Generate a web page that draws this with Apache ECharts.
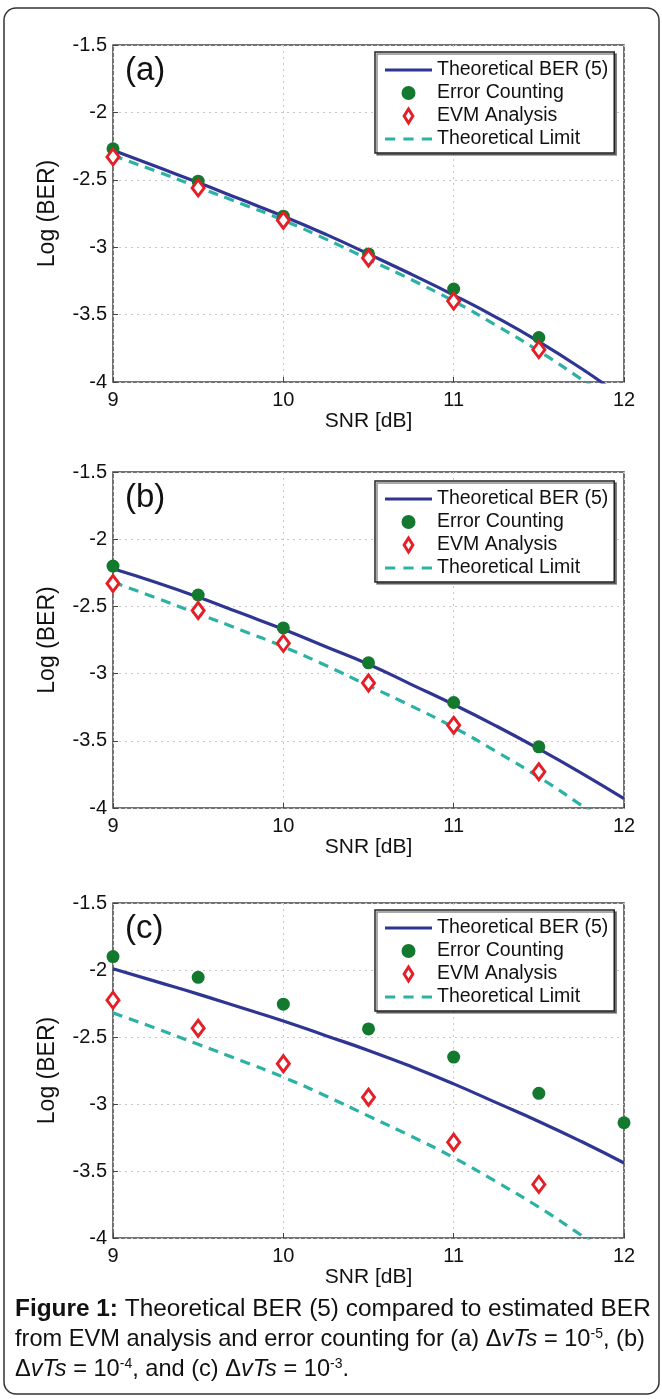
<!DOCTYPE html>
<html>
<head>
<meta charset="utf-8">
<script src="https://cdn.jsdelivr.net/npm/echarts@6/dist/echarts.min.js"></script>
<style>
html,body{margin:0;padding:0;background:#fff;}
#chart{width:662px;height:1399px;}
</style>
</head>
<body>
<div id="chart"></div>
<script>
// ---------- data ----------
var xTicks = [9, 10, 11, 12];
var yTicks = [-4, -3.5, -3, -2.5, -2, -1.5];
var panelLabels = ['(a)', '(b)', '(c)'];
var seriesNames = ['Theoretical BER (5)', 'Error Counting', 'EVM Analysis', 'Theoretical Limit'];

// SNR grid of the theoretical curves
var snrCurve = [9, 9.25, 9.5, 9.75, 10, 10.25, 10.5, 10.75, 11, 11.25, 11.5, 11.75, 12];
// SNR of measured points
var snrPoints = [9, 9.5, 10, 10.5, 11, 11.5, 12];

// Theoretical limit (same in all panels)
var theoLimit = [-2.32, -2.435, -2.555, -2.675, -2.80, -2.94, -3.09, -3.24, -3.40, -3.58, -3.77, -3.98, -4.2];

// Panel (a)
var theoA = [-2.28, -2.40, -2.52, -2.645, -2.77, -2.905, -3.05, -3.20, -3.355, -3.52, -3.70, -3.90, -4.12];
var errA  = [-2.27, -2.51, -2.77, -3.05, -3.31, -3.67, null];
var evmA  = [-2.33, -2.56, -2.80, -3.08, -3.40, -3.76, null];
// Panel (b)
var theoB = [-2.22, -2.32, -2.43, -2.55, -2.67, -2.80, -2.93, -3.08, -3.23, -3.39, -3.56, -3.74, -3.93];
var errB  = [-2.20, -2.415, -2.66, -2.92, -3.215, -3.545, null];
var evmB  = [-2.33, -2.53, -2.775, -3.07, -3.385, -3.73, null];
// Panel (c)
var theoC = [-1.99, -2.085, -2.18, -2.28, -2.38, -2.49, -2.60, -2.72, -2.85, -2.99, -3.13, -3.28, -3.44];
var errC  = [-1.90, -2.055, -2.255, -2.44, -2.65, -2.92, -3.14];
var evmC  = [-2.225, -2.435, -2.70, -2.95, -3.285, -3.60, null];

var theo = [theoA, theoB, theoC];
var err = [errA, errB, errC];
var evm = [evmA, evmB, evmC];

// ---------- styling ----------
var FONT = '"Liberation Sans", Arial, Helvetica, sans-serif';
var BLUE = '#2f3592', GREEN = '#13792f', RED = '#e41f28', TEAL = '#2cb2a5';
var gridTops = [45, 472, 903];
var gridHeights = [337, 336, 335];
var legendTops = [52, 481, 910];

function pairs(xs, ys) {
  var out = [];
  for (var i = 0; i < xs.length; i++) {
    if (ys[i] !== null && ys[i] !== undefined) out.push([xs[i], ys[i]]);
  }
  return out;
}

var ICON_SOLID = 'path://M0,0 H47 V3 H0 Z';
var ICON_DASH = 'path://M0,0 H10 V3 H0 Z M18,0 H28 V3 H18 Z M36,0 H46 V3 H36 Z';
var ICON_DIAMOND = 'path://M5,0 L10,8 L5,16 L0,8 Z';

var grids = [], xAxes = [], yAxes = [], series = [], legends = [], titles = [];
for (var p = 0; p < 3; p++) {
  grids.push({
    left: 113, top: gridTops[p], width: 511, height: gridHeights[p],
    show: true, borderColor: '#444', borderWidth: 1.5, backgroundColor: 'transparent'
  });
  xAxes.push({
    type: 'value', gridIndex: p, min: xTicks[0], max: xTicks[xTicks.length - 1], interval: 1,
    name: 'SNR [dB]', nameLocation: 'middle', nameGap: 29,
    nameTextStyle: { fontSize: 21, color: '#111', fontFamily: FONT },
    axisLine: { show: false },
    axisTick: { show: true, inside: true, length: 5, lineStyle: { color: '#444' } },
    axisLabel: { fontSize: 20, color: '#111', margin: 8, fontFamily: FONT },
    splitLine: { show: true, lineStyle: { color: '#c8c8c8', type: [2, 4], width: 1 } }
  });
  yAxes.push({
    type: 'value', gridIndex: p, min: yTicks[0], max: yTicks[yTicks.length - 1], interval: 0.5,
    name: 'Log (BER)', nameLocation: 'middle', nameGap: 54, nameRotate: 90,
    nameTextStyle: { fontSize: 23, color: '#111', fontFamily: FONT },
    axisLine: { show: false },
    axisTick: { show: true, inside: true, length: 5, lineStyle: { color: '#444' } },
    axisLabel: { fontSize: 20, color: '#111', margin: 6, fontFamily: FONT },
    splitLine: { show: true, lineStyle: { color: '#c8c8c8', type: [2, 4], width: 1 } }
  });
  series.push({
    name: seriesNames[0], type: 'line', xAxisIndex: p, yAxisIndex: p,
    data: pairs(snrCurve, theo[p]), smooth: true, symbol: 'none', clip: true, z: 3,
    lineStyle: { color: BLUE, width: 3.2 }, itemStyle: { color: BLUE }
  });
  series.push({
    name: seriesNames[3], type: 'line', xAxisIndex: p, yAxisIndex: p,
    data: pairs(snrCurve, theoLimit), smooth: true, symbol: 'none', clip: true, z: 2,
    lineStyle: { color: TEAL, width: 3.2, type: [10, 7] }, itemStyle: { color: TEAL }
  });
  series.push({
    name: seriesNames[1], type: 'scatter', xAxisIndex: p, yAxisIndex: p,
    data: pairs(snrPoints, err[p]), symbol: 'circle', symbolSize: 13, clip: false, z: 4,
    itemStyle: { color: GREEN, opacity: 1 }
  });
  series.push({
    name: seriesNames[2], type: 'scatter', xAxisIndex: p, yAxisIndex: p,
    data: pairs(snrPoints, evm[p]), symbol: 'diamond', symbolSize: [12, 16], clip: false, z: 5,
    itemStyle: { color: '#fff', borderColor: RED, borderWidth: 3, opacity: 1 }
  });
  legends.push({
    orient: 'vertical', left: 375, top: legendTops[p],
    padding: [8, 6, 4, 10], itemGap: 3, itemWidth: 47, itemHeight: 14,
    backgroundColor: '#fff', borderColor: '#222', borderWidth: 1.5,
    shadowColor: 'rgba(0,0,0,0.45)', shadowOffsetX: 2, shadowOffsetY: 2, shadowBlur: 0,
    selectedMode: false,
    textStyle: { fontSize: 19.5, color: '#111', fontFamily: FONT },
    data: [
      { name: seriesNames[0], icon: ICON_SOLID, itemStyle: { color: BLUE, borderWidth: 0 } },
      { name: seriesNames[1], icon: 'circle', itemStyle: { color: GREEN, opacity: 1 } },
      { name: seriesNames[2], icon: ICON_DIAMOND, itemStyle: { color: '#fff', borderColor: RED, borderWidth: 3 } },
      { name: seriesNames[3], icon: ICON_DASH, itemStyle: { color: TEAL, borderWidth: 0 } }
    ]
  });
  titles.push({
    text: panelLabels[p], left: 125, top: gridTops[p] + 9, padding: 0,
    textStyle: { fontSize: 33, fontWeight: 'normal', color: '#111', fontFamily: FONT }
  });
}

function capRich(fs) {
  return {
    b: { fontWeight: 'bold', fontSize: fs, fontFamily: FONT, color: '#111' },
    i: { fontStyle: 'italic', fontSize: fs, fontFamily: FONT, color: '#111' },
    s: { fontSize: Math.round(fs * 0.58), fontFamily: FONT, color: '#111', verticalAlign: 'top', lineHeight: fs }
  };
}
function capLine(txt, y, fs) {
  return {
    type: 'text', left: 15, top: y,
    style: { text: txt, fontSize: fs, fontFamily: FONT, fill: '#111', rich: capRich(fs) }
  };
}

var option = {
  animation: false,
  backgroundColor: '#fff',
  title: titles,
  grid: grids,
  xAxis: xAxes,
  yAxis: yAxes,
  legend: legends,
  series: series,
  graphic: [
    { type: 'rect', shape: { x: 4, y: 8, width: 655, height: 1386, r: 12 },
      style: { fill: 'none', stroke: '#333', lineWidth: 1.5 }, z: -1 },
    capLine('{b|Figure 1:} Theoretical BER (5) compared to estimated BER', 1297, 24.4),
    capLine('from EVM analysis and error counting for (a) Δ{i|vTs} = 10{s|-5}, (b)', 1327, 23.6),
    capLine('Δ{i|vTs} = 10{s|-4}, and (c) Δ{i|vTs} = 10{s|-3}.', 1357, 23.6)
  ]
};

var chart = echarts.init(document.getElementById('chart'), null, { renderer: 'canvas' });
chart.setOption(option);
</script>
</body>
</html>
